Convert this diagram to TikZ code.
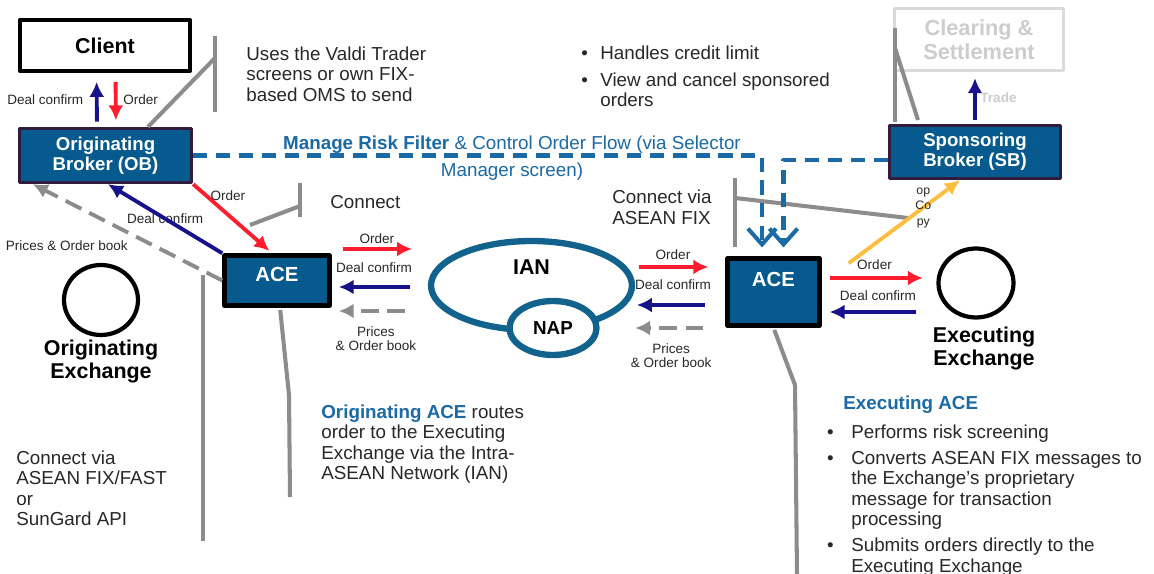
\documentclass[tikz,border=0pt]{standalone}
\usepackage{fontspec}
\setmainfont{Liberation Sans}
\usetikzlibrary{arrows.meta,shapes.geometric}

\definecolor{boxblue}{RGB}{6,90,141}
\definecolor{brokeredge}{RGB}{48,28,62}
\definecolor{riskblue}{RGB}{26,106,166}
\definecolor{ringblue}{RGB}{18,98,142}
\definecolor{ordred}{RGB}{255,28,45}
\definecolor{dealnavy}{RGB}{22,18,140}
\definecolor{callgray}{RGB}{140,140,140}
\definecolor{copyyellow}{RGB}{252,190,62}
\definecolor{clrgray}{RGB}{218,218,218}
\definecolor{clrtext}{RGB}{205,205,205}
\definecolor{bodytext}{RGB}{40,40,40}

\newcommand{\itembul}[1][13.8pt]{\makebox[#1][l]{\textbullet}}
\newcommand{\itemgap}[1][13.8pt]{\hspace*{#1}}

\begin{document}
\begin{tikzpicture}[x=0.02cm,y=-0.02cm,line join=round,
  broker/.style={draw=brokeredge,line width=1.9pt,fill=boxblue,text=white,
    font=\bfseries\fontsize{10.6}{11.5}\selectfont,align=center,inner sep=0pt,
    minimum width=3.44cm,minimum height=1.08cm},
  acebox/.style={draw=black,line width=2.6pt,fill=boxblue,text=white,
    font=\bfseries\fontsize{11.6}{12}\selectfont,inner sep=0pt,text depth=#1},
  exch/.style={ellipse,draw=black,line width=2.4pt,inner sep=0pt},
  exchname/.style={font=\bfseries\fontsize{12.2}{13}\selectfont,align=center},
  ring/.style={ellipse,draw=ringblue,line width=3.6pt,fill=white,inner sep=0pt,
    font=\bfseries\fontsize{12.2}{13}\selectfont},
  note/.style={anchor=north west,inner sep=0pt,align=left,text=bodytext,
    font=\fontsize{10.7}{11.6}\selectfont},
  msg/.style={inner sep=2pt,align=center,text=bodytext,
    font=\fontsize{7.7}{8}\selectfont},
  order/.style={draw=ordred,line width=2.2pt,-{Latex[length=8.5pt,width=8.5pt]}},
  confirm/.style={draw=dealnavy,line width=2.2pt,-{Latex[length=8.5pt,width=8.5pt]}},
  prices/.style={draw=callgray,line width=2.2pt,dash pattern=on 10pt off 5pt,
    -{Latex[length=8.5pt,width=8.5pt]}},
  risk/.style={draw=riskblue,line width=2.3pt,dash pattern=on 8pt off 5pt,
    -{Straight Barb[length=9pt,width=16pt]}},
  callout/.style={draw=callgray,line width=2.3pt}]

\path[use as bounding box,fill=white] (0,0) rectangle (1154,574);

% boxes
\node[draw=black,line width=2.4pt,minimum width=3.4cm,minimum height=1.02cm,
  font=\bfseries\fontsize{12.2}{13}\selectfont] (client) at (105,45.5) {Client};
\node[broker] (ob) at (105.5,155.5) {Originating\\Broker (OB)};
\node[broker,minimum width=3.42cm,minimum height=1.06cm] (sb) at (975,152) {Sponsoring\\Broker (SB)};
\node[draw=clrgray,line width=1.9pt,text=clrtext,align=center,
  minimum width=3.38cm,minimum height=1.24cm,font=\bfseries\fontsize{12.4}{13.6}\selectfont]
  (clear) at (979,39.5) {Clearing \&\\Settlement};
\node[acebox=7.4pt,minimum width=2.1cm,minimum height=1cm] (aceL) at (277,280.5) {ACE};
\node[acebox=14.8pt,minimum width=1.84cm,minimum height=1.34cm] (aceR) at (773.5,292) {ACE};

% network and exchanges
\node[ring,minimum width=4.02cm,minimum height=1.78cm,text depth=20.4pt] (ian) at (531.5,285.5) {IAN};
\node[ring,minimum width=1.74cm,minimum height=1.08cm,font=\bfseries\fontsize{10.7}{12}\selectfont] (nap) at (553,328) {NAP};
\node[exch,minimum width=1.48cm,minimum height=1.4cm] (origEx) at (101,300) {};
\node[exchname] (origExName) at (101,361.5) {Originating\\Exchange};
\node[exch,minimum width=1.5cm,minimum height=1.38cm] (execEx) at (976,283) {};
\node[exchname] (execExName) at (984,348.5) {Executing\\Exchange};

% notes
\node[note] (valdiNote) at (246,46.5) {Uses the Valdi Trader\\screens or own FIX-\\based OMS to send};
\node[note] (sponsorNote) at (581,45.5) {\itembul[10.8pt]Handles credit limit\\[3.7pt]
  \itembul[10.8pt]View and cancel sponsored\\\itemgap[10.8pt]orders};
\node[note,anchor=center,align=center,text=riskblue] (riskNote) at (512,158)
  {\textbf{Manage Risk Filter} \& Control Order Flow (via Selector\\[4pt]Manager screen)};
\node[note] (connectNote) at (330,195.5) {Connect};
\node[note] (fixNote) at (612,190) {Connect via\\ASEAN FIX};
\node[note] (fastNote) at (16,450.5) {Connect via\\ASEAN FIX/FAST\\or\\SunGard API};
\node[note] (origAceNote) at (321,404.5) {\textcolor{riskblue}{\bfseries Originating ACE} routes\\order to the Executing\\Exchange via the Intra-\\ASEAN Network (IAN)};
\node[note,text=riskblue,font=\bfseries\fontsize{10.7}{11.6}\selectfont] (execAceHead) at (843,395.5) {Executing ACE};
\node[note] (execAceNote) at (826.7,424.5) {\itembul Performs risk screening\\[3.2pt]
  \itembul Converts ASEAN FIX messages to\\\itemgap the Exchange's proprietary\\\itemgap message for transaction\\\itemgap processing\\[3.2pt]
  \itembul Submits orders directly to the\\\itemgap Executing Exchange};

% callouts
\draw[callout] ([xshift=0.85cm]ob.north) -- (215,58);
\draw[callout] (215,36) -- (215,112);
\draw[callout] (250,225) -- (300,206);
\draw[callout] (300,183) -- (300,217);
\draw[callout] (203,275) -- (203,541);
\draw[callout,shorten <=1.3pt] ([xshift=0.06cm]aceL.south) -- (289,395) -- (290,497);
\draw[callout] (735,178) -- (735,247);
\draw[callout] (735,198) -- (908,218);
\draw[callout] (895,28) -- (895,122);
\draw[callout] (895,48) -- (918,120);
\draw[callout,shorten <=1.3pt] (aceR.south) -- (795,385) -- (797,574);

% client <-> broker
\draw[confirm,shorten <=3pt,shorten >=5pt] ([xshift=-0.17cm]ob.north) -- ([xshift=-0.17cm]client.south)
  node[midway,left=4.6pt,msg] {Deal confirm};
\draw[order,shorten <=5pt,shorten >=3.7pt] ([xshift=0.21cm]client.south) -- ([xshift=0.21cm]ob.north)
  node[midway,right=1.2pt,msg] {Order};

% broker <-> originating ACE
\draw[order,shorten >=2pt] (ob.south east) -- ([xshift=-0.1cm]aceL.north)
  node[pos=.44,yshift=10.8pt,msg] {Order};
\draw[confirm] (aceL.north west) -- ([xshift=0.05cm]ob.south)
  node[midway,behind path,msg] {Deal confirm};
\draw[prices] (aceL.west) -- ([xshift=0.3cm]ob.south west)
  node[pos=.47,anchor=north east,msg] {Prices \& Order book};

% originating ACE <-> IAN
\draw[order,shorten <=6.2pt,shorten >=9pt] (aceL.east |- 0,249) -- (ian.west |- 0,249)
  node[pos=.47,above,msg] {Order};
\draw[confirm,shorten <=10pt,shorten >=4pt] (ian.west |- 0,287) -- (aceL.east |- 0,287)
  node[pos=.56,above=4.9pt,msg] {Deal confirm};
\draw[prices,shorten <=13pt,shorten >=4pt] (ian.west |- 0,311) -- (aceL.east |- 0,311)
  node[pos=.54,below=6pt,msg] {Prices\\\& Order book};

% IAN <-> executing ACE
\draw[order,shorten <=2.3pt,shorten >=9.6pt] (ian.east |- 0,267) -- (aceR.west |- 0,267)
  node[pos=.42,above=1pt,msg] {Order};
\draw[confirm,shorten <=11.3pt,shorten >=1pt] (aceR.west |- 0,305) -- (ian.east |- 0,305)
  node[pos=.58,above=5.5pt,msg] {Deal confirm};
\draw[prices,shorten <=12.5pt] (aceR.west |- 0,328) -- (ian.east |- 0,328)
  node[pos=.6,below=6pt,msg] {Prices\\\& Order book};

% executing ACE <-> exchange
\draw[order,shorten <=4.5pt,shorten >=7.7pt] (aceR.east |- 0,278) -- (execEx.west |- 0,278)
  node[pos=.46,above=1.5pt,msg] {Order};
\draw[confirm,shorten <=11.5pt,shorten >=4.5pt] (execEx.west |- 0,312) -- (aceR.east |- 0,312)
  node[pos=.51,above=3.2pt,msg] {Deal confirm};

% copy to sponsor, trade to clearing
\draw[draw=copyyellow,line width=2.2pt,-{Latex[length=8.5pt,width=8.5pt]}]
  ([xshift=0.54cm,yshift=-0.14cm]aceR.north east) -- ([xshift=-0.3cm]sb.south)
  node[pos=.67,msg,font=\fontsize{7}{8.8}\selectfont] {op\\Co\\py};
\draw[confirm,shorten <=2pt,shorten >=3.4pt] (sb.north) -- (sb.north |- clear.south)
  node[midway,right,msg,text=clrtext,font=\bfseries\fontsize{7.7}{8}\selectfont] {Trade};

% risk filter and order flow control
\draw[risk,shorten >=5pt] (ob.east) -| ([xshift=-0.23cm]aceR.north);
\draw[risk,shorten >=5pt] ([yshift=-0.16cm]sb.west) -| ([xshift=0.2cm]aceR.north);
\end{tikzpicture}
\end{document}
